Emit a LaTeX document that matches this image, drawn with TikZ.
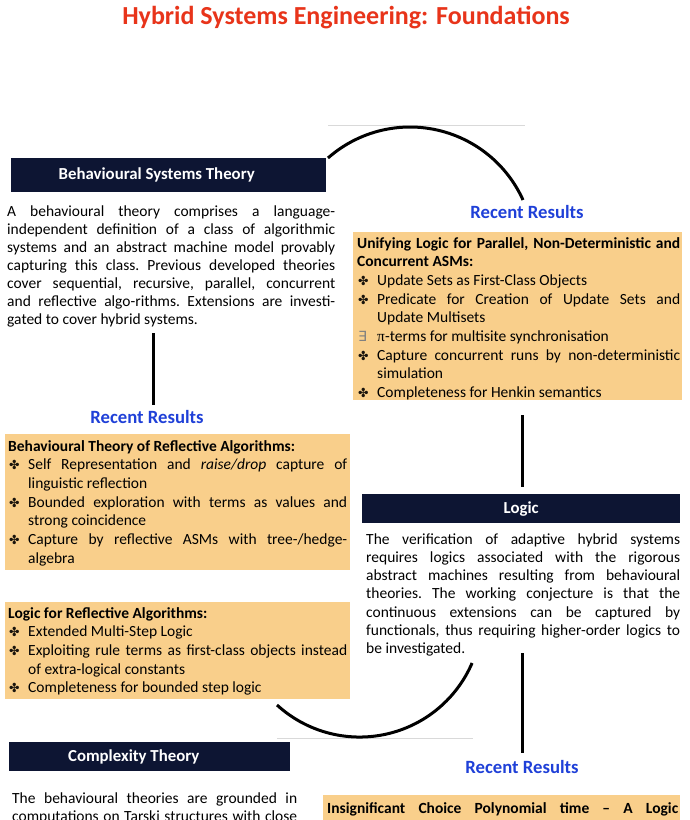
\documentclass[tikz,border=0pt]{standalone}
\usepackage{fontspec}
\setmainfont{Carlito}
\newfontfamily\dejavu{DejaVu Sans}
\newfontfamily\lserif{Liberation Serif}
\definecolor{navy}{HTML}{0D1533}
\definecolor{orng}{HTML}{F9CF8B}
\definecolor{rblue}{HTML}{1F40D8}
\definecolor{tred}{HTML}{E8341A}
\definecolor{bulcol}{HTML}{1A140C}
\newcommand\bul{{\dejavu\fontsize{12.5}{12.5}\selectfont\textcolor{bulcol}{✤}}}
\newcommand\exbul{{\dejavu\fontsize{14}{14}\selectfont\textcolor{black!50}{∃}}}
\newcommand\itm[2][\bul]{\par\noindent\hangindent=20pt\hangafter=1\makebox[20pt][l]{\hspace{1pt}#1}#2}
\newcommand\bodyset[1]{\fontsize{15.5}{#1}\selectfont\tolerance=10000\relax\hyphenpenalty=10000\relax\frenchspacing}
\begin{document}
\begin{tikzpicture}[x=1pt,y=-1pt,
  hdr/.style={fill=navy, text=white, font=\bfseries\fontsize{16.8}{20}\selectfont, inner sep=0pt, anchor=north west},
  body/.style={inner sep=0pt, anchor=base west, align=justify, font=\bodyset{18.3}},
  bbody/.style={inner sep=0pt, anchor=base west, align=justify, font=\bodyset{18.7}},
  obox/.style={fill=orng, inner sep=0pt, anchor=north west},
  rr/.style={text=rblue, font=\bfseries\fontsize{18.7}{22}\selectfont, inner sep=0pt},
  conn/.style={line width=3pt, black},
  gline/.style={line width=0.7pt, black!15}]
\clip (0,0) rectangle (690,820);
\fill[white] (0,0) rectangle (690,820);

% title
\node[font=\bfseries\fontsize{26}{30}\selectfont, text=tred] (title) at (346,18) {Hybrid Systems Engineering: Foundations};

% faint guide lines
\coordinate (g1a) at (328,125); \coordinate (g1b) at (525,125);
\coordinate (g2a) at (277,738); \coordinate (g2b) at (473,738);
\draw[gline] (g1a) -- (g1b);
\draw[gline] (g2a) -- (g2b);

% Behavioural Systems Theory
\node[hdr, minimum width=315, minimum height=34] (bst) at (11,158) {\hspace*{-24pt}Behavioural Systems Theory};
\node[body, text width=328pt, font=\bodyset{18}] (bsttxt) at (7,216) {A behavioural theory comprises a language-\linebreak independent definition of a class of algorithmic\linebreak systems and an abstract machine model provably\linebreak capturing this class. Previous developed theories\linebreak cover sequential, recursive, parallel, concurrent\linebreak and reflective algo-rithms. Extensions are investi-\linebreak gated to cover hybrid systems.};

% left recent results
\node[rr] (rrL) at (147,417) {Recent Results};
\node[obox, minimum width=345, minimum height=136] (box1) at (5,434) {};
\node[bbody, text width=339pt] (b1txt) at (8,451) {\textbf{Behavioural Theory of Reflective Algorithms:}\itm{Self Representation and \textit{raise/drop} capture of\linebreak linguistic reflection}\itm{Bounded exploration with terms as values and\linebreak strong coincidence}\itm{Capture by reflective ASMs with tree-/hedge-\linebreak algebra}\par};

\node[obox, minimum width=345, minimum height=97] (box2) at (5,602) {};
\node[bbody, text width=339pt] (b2txt) at (8,618) {\textbf{Logic for Reflective Algorithms:}\itm{Extended Multi-Step Logic}\itm{Exploiting rule terms as first-class objects instead\linebreak of extra-logical constants}\itm{Completeness for bounded step logic}\par};

% Complexity Theory
\node[hdr, minimum width=281, minimum height=29] (ct) at (9,742) {\hspace*{-32pt}Complexity Theory};
\node[body, text width=285pt] (cttxt) at (12,803) {The behavioural theories are grounded in\linebreak \makebox[\linewidth][s]{computations on Tarski structures with close}};

% right top recent results
\node[rr] (rrT) at (527,212) {Recent Results};
\node[obox, minimum width=329, minimum height=168] (box3) at (353,232) {};
\node[bbody, text width=323pt] (b3txt) at (357,248) {\textbf{Unifying Logic for Parallel, Non-Deterministic and\linebreak Concurrent ASMs:}\itm{Update Sets as First-Class Objects}\itm{Predicate for Creation of Update Sets and\linebreak Update Multisets}\itm[\exbul]{{\lserif π}-terms for multisite synchronisation}\itm{Capture concurrent runs by non-deterministic\linebreak simulation}\itm{Completeness for Henkin semantics}\par};

% Logic
\node[hdr, minimum width=318, minimum height=29] (lg) at (362,494) {Logic};
\node[body, text width=314pt] (lgtxt) at (366,544) {The verification of adaptive hybrid systems\linebreak requires logics associated with the rigorous\linebreak abstract machines resulting from behavioural\linebreak theories. The working conjecture is that the\linebreak continuous extensions can be captured by\linebreak functionals, thus requiring higher-order logics to\linebreak be investigated.};

% right bottom recent results
\node[rr] (rrB) at (522,767) {Recent Results};
\node[obox, minimum width=357, minimum height=40] (box4) at (323,795) {};
\node[body, text width=351pt, font=\bodyset{18.7}\bfseries] (b4txt) at (327,813) {\makebox[\linewidth][s]{Insignificant Choice Polynomial time – A Logic}};

% connectors
\coordinate (v1a) at (153,333); \coordinate (v1b) at (153,405);
\coordinate (v2a) at (522,415); \coordinate (v2b) at (522,487);
\coordinate (v3a) at (522,653); \coordinate (v3b) at (522,753);
\draw[conn] (v1a) -- (v1b);
\draw[conn] (v2a) -- (v2b);
\draw[conn] (v3a) -- (v3b);
\coordinate (a1s) at (328,158);
\draw[conn] (a1s) arc[start angle=-131.4, end angle=-24.3, radius=124];
\coordinate (a2s) at (277,705);
\draw[conn] (a2s) arc[start angle=132.4, end angle=23.3, radius=122.5];
\end{tikzpicture}
\end{document}
